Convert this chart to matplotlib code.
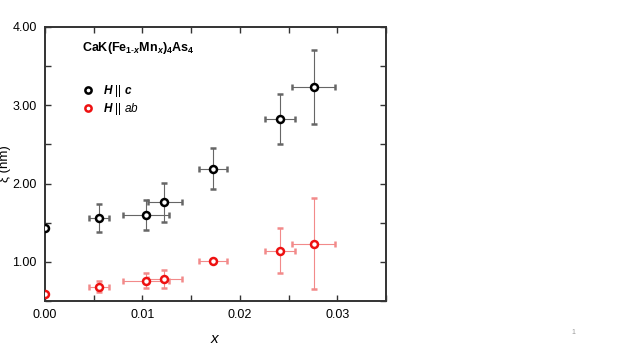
import matplotlib

matplotlib.use("Agg")
import matplotlib.pyplot as plt  # noqa: E402
from matplotlib.lines import Line2D  # noqa: E402
from matplotlib.ticker import MultipleLocator, FormatStrFormatter  # noqa: E402

# Mn content x and its uncertainty (lower / upper)
x = [0.0, 0.00558, 0.01038, 0.01226, 0.0172, 0.02408, 0.02758]
x_lo = [0.0, 0.00106, 0.00233, 0.00171, 0.00144, 0.00153, 0.00218]
x_hi = [0.0, 0.00100, 0.00233, 0.00179, 0.00144, 0.00156, 0.00222]

# correlation length xi (nm), H || c
xi_c = [1.43, 1.56, 1.60, 1.76, 2.19, 2.82, 3.23]
xi_c_lo = [0.0, 0.18, 0.19, 0.25, 0.26, 0.32, 0.47]
xi_c_hi = [0.0, 0.18, 0.19, 0.25, 0.26, 0.32, 0.47]

# correlation length xi (nm), H || ab
xi_ab = [0.59, 0.68, 0.76, 0.78, 1.01, 1.14, 1.23]
xi_ab_lo = [0.0, 0.07, 0.10, 0.12, 0.02, 0.28, 0.58]
xi_ab_hi = [0.0, 0.07, 0.10, 0.11, 0.02, 0.29, 0.59]

plt.rcParams["font.family"] = ["Liberation Sans", "DejaVu Sans"]
plt.rcParams["mathtext.fontset"] = "custom"
plt.rcParams["mathtext.rm"] = "Liberation Sans"
plt.rcParams["mathtext.it"] = "Liberation Sans:italic"
plt.rcParams["mathtext.bf"] = "Liberation Sans:bold"
plt.rcParams["mathtext.bfit"] = "Liberation Sans:bold:italic"

fig = plt.figure(figsize=(6.23, 3.5), dpi=100)
ax = fig.add_axes([0.0722, 0.14, 0.5474, 0.7829])

marker_kw = dict(fmt="o", ms=5, mew=1.8, mfc="white", capsize=2.5, elinewidth=0.8, capthick=0.8)
ax.errorbar(x, xi_c, yerr=[xi_c_lo, xi_c_hi], xerr=[x_lo, x_hi],
            mec="black", ecolor="#666666", zorder=3, **marker_kw)
ax.errorbar(x, xi_ab, yerr=[xi_ab_lo, xi_ab_hi], xerr=[x_lo, x_hi],
            mec="#ee1111", ecolor="#f28a8a", zorder=3, **marker_kw)

ax.set_xlim(0, 0.035)
ax.set_ylim(0.5, 4.0)
ax.xaxis.set_major_locator(MultipleLocator(0.01))
ax.xaxis.set_minor_locator(MultipleLocator(0.005))
ax.yaxis.set_major_locator(MultipleLocator(1.0))
ax.yaxis.set_minor_locator(MultipleLocator(0.5))
ax.xaxis.set_major_formatter(FormatStrFormatter("%.2f"))
ax.yaxis.set_major_formatter(FormatStrFormatter("%.2f"))
ax.tick_params(which="both", direction="in", top=True, right=True, length=4,
               width=1.0, color="#333333", labelsize=9, pad=6)
for s in ax.spines.values():
    s.set_linewidth(1.4)
    s.set_color("#333333")

ax.set_xlabel("$\\mathit{x}$", fontsize=11, labelpad=8)
ax.set_ylabel("ξ (nm)", fontsize=9.5)
ax.yaxis.set_label_coords(-0.1, 0.5)

ax.text(0.11, 0.925,
        r"CaK(Fe$_{\mathbf{1\text{-}}\mathbfit{x}}$Mn$_{\mathbfit{x}}$)$_{\mathbf{4}}$As$_{\mathbf{4}}$",
        transform=ax.transAxes, fontsize=9, fontweight="bold", va="center")

handles = [
    Line2D([], [], ls="none", marker="o", ms=4.5, mew=1.8, mfc="white", mec="black"),
    Line2D([], [], ls="none", marker="o", ms=4.5, mew=1.8, mfc="white", mec="#ee1111"),
]
labels = [r"$\mathbfit{H}$ || $\mathbfit{c}$", r"$\mathbfit{H}$ || $\mathit{ab}$"]
ax.legend(handles, labels, loc="upper left", bbox_to_anchor=(0.085, 0.825), frameon=False,
          fontsize=8.5, handlelength=1.0, handletextpad=0.8, labelspacing=0.15,
          borderpad=0.2)

fig.text(0.92, 0.046, "1", fontsize=5, color="#999999", ha="center")

fig.savefig("out.png", dpi=100)
plt.close(fig)
